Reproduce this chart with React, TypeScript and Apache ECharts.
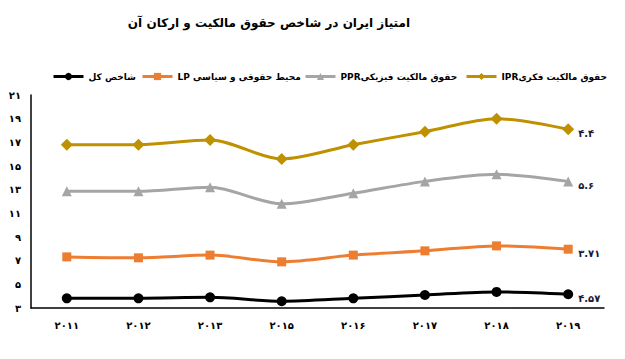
import React, { useEffect, useRef } from "react";
import * as echarts from "echarts";

const titleText = "امتیاز ایران در شاخص حقوق مالکیت و ارکان آن";
const years = ["۲۰۱۱", "۲۰۱۲", "۲۰۱۳", "۲۰۱۵", "۲۰۱۶", "۲۰۱۷", "۲۰۱۸", "۲۰۱۹"];
const seriesNames = ["شاخص کل", "LP محیط حقوقی و سیاسی", "PPRحقوق مالکیت فیزیکی", "IPRحقوق مالکیت فکری"];
const totalValues = [3.82, 3.82, 3.9, 3.57, 3.82, 4.1, 4.36, 4.16];
const lpValues = [7.32, 7.24, 7.47, 6.9, 7.47, 7.83, 8.25, 7.97];
const pprValues = [12.86, 12.86, 13.2, 11.8, 12.7, 13.7, 14.3, 13.7];
const iprValues = [16.8, 16.8, 17.2, 15.6, 16.8, 17.9, 19.0, 18.1];
const endLabels = ["۴.۵۷", "۳.۷۱", "۵.۶", "۴.۴"];
const colors = ["#000000", "#ED7D31", "#A5A5A5", "#BF9000"];
const symbols = ["circle", "rect", "triangle", "diamond"];
const symbolSizes = [10, 9, 10, 12];
const legendLefts = [47, 136, 299, 460];

const toPersian = (n: number) =>
  String(n).replace(/[0-9]/g, (d) => "۰۱۲۳۴۵۶۷۸۹"[Number(d)]);

export default function App() {
  const ref = useRef<HTMLDivElement>(null);
  useEffect(() => {
    if (!ref.current) return;
    const chart = echarts.init(ref.current, null, { renderer: "svg" });
    const allValues = [totalValues, lpValues, pprValues, iprValues];
    const font = "DejaVu Sans";
    chart.setOption({
      animation: false,
      textStyle: { fontFamily: font },
      title: {
        text: titleText,
        right: 210,
        top: 12,
        textStyle: { fontFamily: font, fontSize: 12, fontWeight: "bold", color: "#000" },
      },
      legend: seriesNames.map((name, i) => ({
        top: 67,
        left: legendLefts[i],
        itemGap: 0,
        itemWidth: 30,
        itemHeight: 9,
        lineStyle: { width: 3 },
        textStyle: { fontFamily: font, fontSize: 9, fontWeight: "bold", color: "#000" },
        data: [name],
      })),
      grid: { left: 31, right: 21, top: 95, bottom: 51, containLabel: false },
      xAxis: {
        type: "category",
        data: years,
        boundaryGap: true,
        axisLine: { show: true, lineStyle: { color: "#000", width: 1.5 } },
        axisTick: { show: false },
        axisLabel: { margin: 12, fontFamily: font, fontSize: 10, fontWeight: "bold", color: "#000" },
      },
      yAxis: {
        type: "value",
        min: 3,
        max: 21,
        interval: 1,
        splitLine: { show: false },
        axisLine: { show: true, lineStyle: { color: "#000", width: 1.5 } },
        axisTick: { show: false },
        axisLabel: {
          margin: 10,
          fontFamily: font,
          fontSize: 10,
          fontWeight: "bold",
          color: "#000",
          formatter: (v: number) => (v % 2 === 1 ? toPersian(v) : ""),
        },
      },
      series: seriesNames.map((name, i) => ({
        name,
        type: "line",
        data: allValues[i],
        smooth: 0.3,
        symbol: symbols[i],
        symbolSize: symbolSizes[i],
        itemStyle: { color: colors[i] },
        lineStyle: { color: colors[i], width: 3 },
        endLabel: {
          show: true,
          formatter: endLabels[i],
          distance: 10,
          offset: [0, 4],
          fontFamily: font,
          fontSize: 10,
          fontWeight: "bold",
          color: "#1a1a3a",
        },
        z: 2 + i,
      })),
    });
    return () => chart.dispose();
  }, []);
  return (
    <div
      ref={ref}
      style={{ position: "absolute", left: 0, top: 0, width: 625, height: 359 }}
    />
  );
}
